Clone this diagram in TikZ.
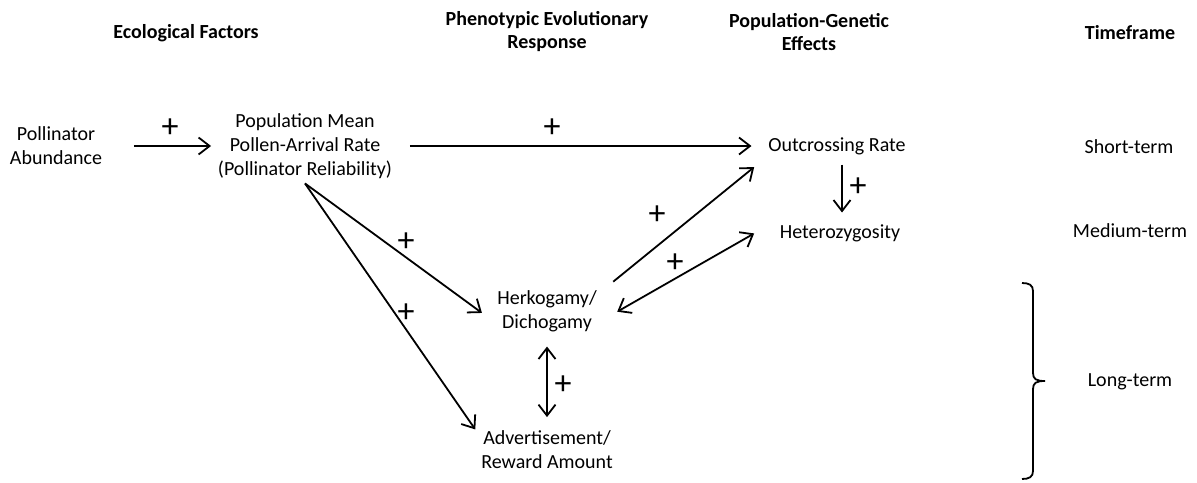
\documentclass[tikz,border=0pt]{standalone}
\usepackage{fontspec}
\setmainfont{Carlito}
\usetikzlibrary{arrows.meta}

\begin{document}
\begin{tikzpicture}[x=0.5pt,y=-0.5pt,line width=0.9pt,
  every node/.style={align=center, inner sep=2pt, font=\fontsize{10}{12}\selectfont},
  head/.style={font=\fontsize{10}{11.5}\selectfont\bfseries},
  plus/.style={inner sep=0pt, font=\fontsize{17}{17}\selectfont},
  >={Straight Barb[length=5.5pt,width=8.5pt]}]
\useasboundingbox (0,0) rectangle (1197,482);
% column heads
\node[head] (eco) at (186,33) {Ecological Factors};
\node[head] (phe) at (547,32) {Phenotypic Evolutionary\\Response};
\node[head] (gen) at (809,32) {Population-Genetic\\Effects};
\node[head] (tim) at (1130,33) {Timeframe};
% factors and responses
\node (pa) at (56,146) {Pollinator\\Abundance};
\node (pmr) at (305,146) {Population Mean\\Pollen-Arrival Rate\\(Pollinator Reliability)};
\node (oc) at (837,146) {Outcrossing Rate};
\node (het) at (840,233) {Heterozygosity};
\node (herk) at (547,311) {Herkogamy/\\Dichogamy};
\node (adv) at (547,450) {Advertisement/\\Reward Amount};
% timeframe
\node (st) at (1129,147) {Short-term};
\node (mt) at (1130,231) {Medium-term};
\node (lt) at (1130,382) {Long-term};
% arrows
\draw[->, shorten <=13.5pt, shorten >=1pt] (pa) -- (pmr);
\draw[->, shorten <=6.5pt, shorten >=6pt] (pmr) -- (oc);
\draw[->, shorten <=2.5pt, shorten >=3.5pt] ([xshift=2.5pt]oc.south) -- ([xshift=2.5pt]oc.south |- het.north);
\draw[->, shorten >=6.5pt] (pmr.south) -- (herk.190);
\draw[->, shorten >=1pt] (pmr.south) -- (adv.165);
\draw[->, shorten <=7.5pt, shorten >=6pt] (herk.20) -- (oc.south west);
\draw[<->, shorten <=9pt, shorten >=12pt] (herk.-10) -- (het.170);
\draw[<->, shorten <=5pt, shorten >=4.5pt] (herk.south) -- (adv.north);
% brace for the long term
\draw (1022,283) .. controls (1029,283) and (1033,285) .. (1033,291) -- (1033,373)
  .. controls (1033,379) and (1036,381) .. (1045,381)
  .. controls (1036,381) and (1033,383) .. (1033,389) -- (1033,471)
  .. controls (1033,477) and (1029,479) .. (1022,479);
% signs
\foreach \x/\y in {170/128, 552/128, 858/187, 406/242, 406/313, 657/215, 675/263, 563/385}
  \node[plus] at (\x,\y) {+};
\end{tikzpicture}
\end{document}
